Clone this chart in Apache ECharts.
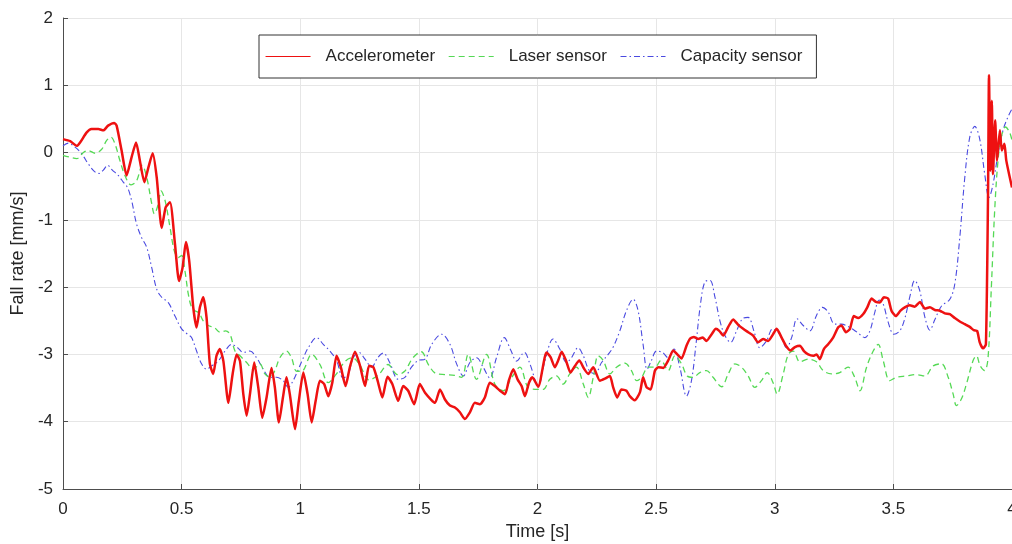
<!DOCTYPE html>
<html>
<head>
<meta charset="utf-8">
<script src="https://cdn.jsdelivr.net/npm/echarts@6/dist/echarts.min.js"></script>
<style>
  html, body { margin: 0; padding: 0; background: #fff; }
  #chart { width: 1012px; height: 544px; }
</style>
</head>
<body>
<div id="chart"></div>
<script>
// 图例名称
const seriesNames = ["Accelerometer", "Laser sensor", "Capacity sensor"];

// 加速度计 (时间 s / 速度 mm/s)
const accelTime = [0, 0.03, 0.058, 0.072, 0.1, 0.12, 0.149, 0.17, 0.19, 0.216, 0.226, 0.247, 0.268, 0.289, 0.308, 0.324, 0.343, 0.36, 0.378, 0.395,
  0.416, 0.433, 0.451, 0.472, 0.489, 0.504, 0.518, 0.532, 0.549, 0.563, 0.577, 0.591, 0.605, 0.619, 0.633, 0.647, 0.661, 0.676, 0.697, 0.715,
  0.732, 0.746, 0.76, 0.774, 0.788, 0.806, 0.823, 0.84, 0.858, 0.879, 0.893, 0.91, 0.927, 0.942, 0.956, 0.978, 0.994, 1.013, 1.031, 1.048,
  1.065, 1.083, 1.101, 1.118, 1.135, 1.153, 1.171, 1.191, 1.209, 1.231, 1.252, 1.273, 1.29, 1.308, 1.326, 1.346, 1.368, 1.388, 1.413, 1.434,
  1.455, 1.48, 1.504, 1.526, 1.551, 1.568, 1.589, 1.61, 1.631, 1.652, 1.673, 1.694, 1.715, 1.736, 1.757, 1.778, 1.799, 1.82, 1.842, 1.863,
  1.879, 1.898, 1.916, 1.933, 1.947, 1.964, 1.978, 2.003, 2.038, 2.055, 2.073, 2.087, 2.102, 2.12, 2.139, 2.158, 2.176, 2.196, 2.214, 2.235,
  2.263, 2.284, 2.305, 2.319, 2.336, 2.354, 2.375, 2.389, 2.41, 2.432, 2.445, 2.46, 2.477, 2.495, 2.509, 2.53, 2.551, 2.572, 2.589, 2.607,
  2.628, 2.642, 2.659, 2.677, 2.696, 2.712, 2.734, 2.752, 2.766, 2.783, 2.804, 2.825, 2.846, 2.867, 2.888, 2.909, 2.93, 2.951, 2.972, 2.993,
  3.008, 3.029, 3.047, 3.067, 3.085, 3.106, 3.123, 3.141, 3.162, 3.176, 3.19, 3.207, 3.225, 3.246, 3.267, 3.281, 3.3, 3.317, 3.333, 3.352,
  3.373, 3.39, 3.408, 3.426, 3.443, 3.46, 3.478, 3.492, 3.51, 3.53, 3.548, 3.569, 3.59, 3.612, 3.633, 3.654, 3.675, 3.696, 3.717, 3.738,
  3.759, 3.78, 3.801, 3.822, 3.839, 3.853, 3.864, 3.878, 3.89, 3.899, 3.903, 3.909, 3.915, 3.92, 3.929, 3.937, 3.949, 3.957, 3.968, 3.976, 4.0];
const accel = [0.2, 0.17, 0.1, 0.15, 0.3, 0.35, 0.35, 0.33, 0.4, 0.44, 0.4, 0.03, -0.34, -0.07, 0.15, -0.12, -0.44, -0.22, -0.01, -0.37,
  -1.12, -0.81, -0.74, -1.36, -1.91, -1.71, -1.33, -1.61, -2.3, -2.6, -2.3, -2.15, -2.45, -3.14, -3.29, -3.02, -2.92, -3.1, -3.72, -3.29,
  -3.0, -3.1, -3.59, -3.91, -3.59, -3.12, -3.49, -3.94, -3.64, -3.2, -3.49, -4.01, -3.64, -3.34, -3.59, -4.11, -3.69, -3.27, -3.59, -4.01,
  -3.69, -3.39, -3.44, -3.62, -3.42, -3.02, -3.19, -3.47, -3.19, -2.96, -3.17, -3.47, -3.17, -3.19, -3.39, -3.64, -3.33, -3.44, -3.69, -3.47,
  -3.54, -3.74, -3.44, -3.57, -3.67, -3.72, -3.52, -3.67, -3.76, -3.79, -3.86, -3.96, -3.86, -3.72, -3.74, -3.64, -3.42, -3.47, -3.54, -3.59,
  -3.39, -3.22, -3.37, -3.47, -3.62, -3.42, -3.34, -3.48, -2.97, -3.04, -3.19, -3.09, -2.96, -3.09, -3.27, -3.17, -3.09, -3.21, -3.29, -3.19,
  -3.39, -3.36, -3.32, -3.49, -3.64, -3.52, -3.54, -3.62, -3.68, -3.56, -3.34, -3.49, -3.52, -3.24, -3.19, -3.2, -3.09, -2.94, -3.0, -3.06,
  -2.87, -2.77, -2.74, -2.77, -2.75, -2.8, -2.7, -2.62, -2.65, -2.72, -2.59, -2.48, -2.56, -2.62, -2.67, -2.72, -2.82, -2.77, -2.8, -2.7,
  -2.62, -2.75, -2.87, -2.94, -2.89, -2.87, -2.95, -3.0, -3.02, -3.0, -3.07, -2.92, -2.85, -2.75, -2.6, -2.57, -2.67, -2.62, -2.43, -2.46,
  -2.4, -2.3, -2.17, -2.22, -2.23, -2.15, -2.17, -2.35, -2.43, -2.35, -2.3, -2.27, -2.29, -2.22, -2.32, -2.3, -2.34, -2.35, -2.39, -2.4,
  -2.46, -2.51, -2.55, -2.59, -2.64, -2.65, -2.82, -2.91, -2.85, -0.61, 1.15, -0.27, 0.77, -0.32, 0.48, -0.12, 0.33, 0.03, 0.13, -0.12, -0.52];

// 激光传感器
const laserTime = [0, 0.03, 0.058, 0.086, 0.107, 0.135, 0.163, 0.184, 0.202, 0.219, 0.24, 0.261, 0.287, 0.31, 0.334, 0.353, 0.374, 0.385, 0.402, 0.413,
  0.43, 0.451, 0.469, 0.486, 0.5, 0.514, 0.528, 0.542, 0.556, 0.573, 0.591, 0.612, 0.638, 0.662, 0.685, 0.704, 0.725, 0.746, 0.774, 0.802,
  0.83, 0.851, 0.872, 0.893, 0.914, 0.942, 0.963, 0.985, 1.006, 1.048, 1.083, 1.118, 1.15, 1.19, 1.22, 1.25, 1.29, 1.33, 1.37, 1.41,
  1.44, 1.475, 1.51, 1.54, 1.57, 1.61, 1.65, 1.68, 1.708, 1.743, 1.785, 1.82, 1.856, 1.89, 1.926, 1.961, 2.003, 2.024, 2.052, 2.08,
  2.108, 2.136, 2.164, 2.193, 2.214, 2.235, 2.256, 2.277, 2.305, 2.333, 2.368, 2.396, 2.418, 2.439, 2.467, 2.495, 2.52, 2.551, 2.579, 2.607,
  2.631, 2.656, 2.684, 2.712, 2.74, 2.776, 2.804, 2.832, 2.86, 2.888, 2.916, 2.944, 2.968, 2.993, 3.01, 3.035, 3.057, 3.078, 3.106, 3.141,
  3.176, 3.204, 3.239, 3.274, 3.309, 3.337, 3.359, 3.387, 3.415, 3.436, 3.457, 3.485, 3.513, 3.555, 3.597, 3.633, 3.668, 3.703, 3.731, 3.752,
  3.766, 3.787, 3.808, 3.836, 3.85, 3.866, 3.885, 3.899, 3.913, 3.927, 3.941, 3.955, 3.973, 3.99, 4.0];
const laser = [-0.04, -0.07, -0.09, 0.0, 0.03, -0.01, 0.05, 0.18, 0.23, 0.13, -0.12, -0.34, -0.48, -0.42, -0.19, -0.37, -0.76, -0.91, -0.76, -0.57,
  -0.71, -1.11, -1.46, -1.56, -1.53, -1.76, -2.1, -2.3, -2.35, -2.38, -2.5, -2.57, -2.6, -2.67, -2.65, -2.7, -2.95, -3.02, -3.12, -3.22,
  -3.14, -3.29, -3.34, -3.24, -3.05, -2.95, -3.05, -3.25, -3.25, -3.0, -3.15, -3.42, -3.3, -3.1, -3.05, -3.15, -3.38, -3.3, -3.15, -3.3,
  -3.25, -3.05, -2.96, -3.15, -3.28, -3.3, -3.31, -3.34, -3.0, -3.37, -3.0, -3.44, -3.54, -3.35, -3.19, -3.49, -3.52, -3.52, -3.37, -3.32,
  -3.44, -3.29, -3.19, -3.44, -3.64, -3.34, -3.02, -3.09, -3.29, -3.19, -3.13, -3.24, -3.39, -3.34, -3.19, -3.19, -3.09, -3.24, -3.02, -3.14,
  -3.32, -3.34, -3.27, -3.24, -3.34, -3.48, -3.29, -3.14, -3.19, -3.32, -3.49, -3.39, -3.27, -3.42, -3.59, -3.3, -3.0, -2.95, -3.11, -3.07,
  -3.11, -3.24, -3.29, -3.27, -3.19, -3.34, -3.54, -3.19, -2.95, -2.85, -3.09, -3.39, -3.34, -3.32, -3.3, -3.32, -3.17, -3.14, -3.34, -3.59,
  -3.76, -3.66, -3.44, -3.09, -3.02, -3.17, -3.24, -3.05, -2.0, -0.86, -0.12, 0.23, 0.38, 0.3, 0.18];

// 电容传感器
const capTime = [0, 0.022, 0.051, 0.079, 0.107, 0.132, 0.152, 0.17, 0.188, 0.208, 0.233, 0.254, 0.272, 0.289, 0.31, 0.331, 0.353, 0.374, 0.395, 0.416,
  0.444, 0.472, 0.5, 0.525, 0.542, 0.563, 0.584, 0.605, 0.626, 0.654, 0.683, 0.711, 0.736, 0.76, 0.788, 0.816, 0.844, 0.872, 0.9, 0.928,
  0.949, 0.97, 0.992, 1.013, 1.034, 1.069, 1.097, 1.125, 1.153, 1.181, 1.202, 1.223, 1.247, 1.273, 1.301, 1.326, 1.35, 1.377, 1.413, 1.441,
  1.469, 1.497, 1.526, 1.554, 1.596, 1.631, 1.659, 1.687, 1.715, 1.743, 1.771, 1.799, 1.827, 1.86, 1.888, 1.912, 1.944, 1.968, 2.003, 2.031,
  2.066, 2.094, 2.122, 2.143, 2.171, 2.193, 2.218, 2.242, 2.27, 2.298, 2.319, 2.347, 2.375, 2.403, 2.424, 2.445, 2.462, 2.48, 2.502, 2.527,
  2.551, 2.575, 2.6, 2.628, 2.649, 2.668, 2.687, 2.706, 2.727, 2.748, 2.769, 2.79, 2.814, 2.839, 2.864, 2.888, 2.912, 2.937, 2.965, 2.991,
  3.021, 3.05, 3.071, 3.094, 3.12, 3.148, 3.176, 3.201, 3.225, 3.253, 3.281, 3.317, 3.347, 3.38, 3.401, 3.422, 3.44, 3.457, 3.478, 3.502,
  3.527, 3.548, 3.569, 3.59, 3.611, 3.633, 3.654, 3.675, 3.703, 3.738, 3.759, 3.78, 3.801, 3.822, 3.843, 3.864, 3.885, 3.903, 3.92, 3.941,
  3.962, 3.983, 4.0];
const capacity = [0.1, 0.14, 0.08, -0.02, -0.17, -0.28, -0.31, -0.26, -0.19, -0.26, -0.34, -0.44, -0.52, -0.71, -1.06, -1.26, -1.41, -1.71, -2.03, -2.15,
  -2.23, -2.43, -2.62, -2.7, -2.75, -2.95, -3.14, -3.22, -3.17, -3.1, -2.95, -2.85, -2.9, -2.97, -2.95, -3.05, -3.22, -3.34, -3.34, -3.39,
  -3.49, -3.39, -3.22, -3.05, -2.9, -2.75, -2.85, -2.95, -3.09, -3.35, -3.3, -3.05, -2.97, -3.07, -3.19, -3.05, -2.98, -3.12, -3.37, -3.34,
  -3.19, -3.09, -3.07, -2.85, -2.7, -2.85, -3.14, -3.32, -3.12, -3.05, -3.19, -3.35, -3.05, -2.75, -2.94, -3.1, -2.97, -3.14, -3.47, -3.1,
  -2.77, -2.92, -3.12, -3.05, -2.9, -3.02, -3.24, -3.29, -3.12, -3.0, -2.89, -2.65, -2.35, -2.18, -2.35, -2.85, -3.22, -3.09, -2.95, -2.97,
  -3.05, -2.92, -3.19, -3.62, -3.39, -2.85, -2.25, -1.92, -1.9, -2.15, -2.5, -2.72, -2.82, -2.65, -2.47, -2.45, -2.65, -2.9, -2.8, -2.62,
  -2.7, -2.9, -2.75, -2.47, -2.57, -2.65, -2.42, -2.3, -2.37, -2.55, -2.55, -2.6, -2.67, -2.75, -2.65, -2.37, -2.19, -2.25, -2.52, -2.7,
  -2.65, -2.47, -2.15, -1.9, -2.05, -2.45, -2.64, -2.48, -2.28, -2.18, -1.95, -1.26, -0.37, 0.23, 0.39, 0.2, -0.32, -0.67, -0.47, -0.02,
  0.33, 0.53, 0.65];

// 坐标轴刻度
const xTicks = { min: 0, max: 4, step: 0.5 };
const yTicks = { min: -5, max: 2, step: 1 };

const zip = (ts, vs) => ts.map((t, i) => [t, vs[i]]);

const chart = echarts.init(document.getElementById("chart"), null, { renderer: "canvas" });

const axisColor = "#4d4d4d";
const font = "Liberation Sans, Arial, sans-serif";

chart.setOption({
  animation: false,
  backgroundColor: "#ffffff",
  grid: {
    left: 63,
    right: 0,
    top: 18,
    bottom: 55,
    outerBoundsMode: "none",
  },
  legend: {
    data: seriesNames,
    left: 259,
    top: 35,
    padding: [13, 14, 13, 6],
    itemGap: 13,
    itemWidth: 45,
    itemHeight: 14,
    backgroundColor: "#ffffff",
    borderColor: "#333333",
    borderWidth: 1,
    borderRadius: 0,
    itemStyle: { opacity: 0 }, // 图例只画线，不画圆点
    lineStyle: { width: 1.1 },
    textStyle: {
      fontFamily: font,
      fontSize: 17,
      color: "#262626",
      padding: [0, 0, 0, 10],
    },
  },
  xAxis: {
    type: "value",
    min: xTicks.min,
    max: xTicks.max,
    interval: xTicks.step,
    name: "Time [s]",
    nameLocation: "middle",
    nameGap: 34,
    nameTextStyle: { fontFamily: font, fontSize: 18, color: "#262626" },
    axisLine: { onZero: false, lineStyle: { color: axisColor, width: 1 } },
    axisTick: { inside: true, length: 5, lineStyle: { color: axisColor } },
    axisLabel: { fontFamily: font, fontSize: 17, color: "#262626", margin: 12 },
    splitLine: { show: true, lineStyle: { color: "#e6e6e6", width: 1 } },
  },
  yAxis: {
    type: "value",
    min: yTicks.min,
    max: yTicks.max,
    interval: yTicks.step,
    name: "Fall rate [mm/s]",
    nameLocation: "middle",
    nameGap: 31,
    nameTextStyle: { fontFamily: font, fontSize: 18, color: "#262626" },
    axisLine: { show: true, onZero: false, lineStyle: { color: axisColor, width: 1 } },
    axisTick: { show: true, inside: true, length: 5, lineStyle: { color: axisColor } },
    axisLabel: { fontFamily: font, fontSize: 17, color: "#262626", margin: 10 },
    splitLine: { show: true, lineStyle: { color: "#e6e6e6", width: 1 } },
  },
  series: [
    {
      name: seriesNames[0],
      type: "line",
      data: zip(accelTime, accel),
      showSymbol: false,
      symbol: "none",
      smooth: 0.2,
      z: 3,
      lineStyle: { color: "#ee1111", width: 2.5 },
      itemStyle: { color: "#ee1111" },
    },
    {
      name: seriesNames[1],
      type: "line",
      data: zip(laserTime, laser),
      showSymbol: false,
      symbol: "none",
      smooth: 0.35,
      z: 2,
      lineStyle: { color: "#55d955", width: 1.3, type: [6, 4] },
      itemStyle: { color: "#55d955" },
    },
    {
      name: seriesNames[2],
      type: "line",
      data: zip(capTime, capacity),
      showSymbol: false,
      symbol: "none",
      smooth: 0.35,
      z: 1,
      lineStyle: { color: "#4a4ae0", width: 1.1, type: [6, 3, 1.5, 3] },
      itemStyle: { color: "#4a4ae0" },
    },
  ],
});
</script>
</body>
</html>
